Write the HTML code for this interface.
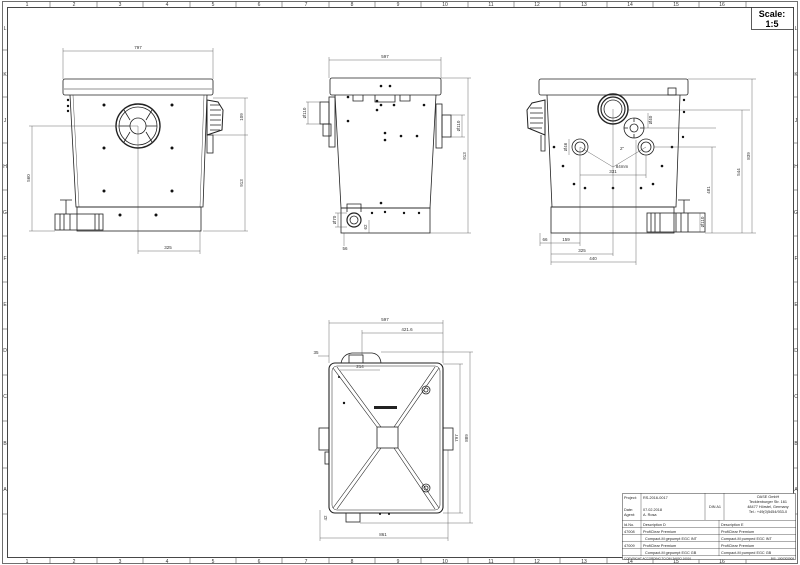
<!DOCTYPE html>
<html><head><meta charset="utf-8"><style>
html,body{margin:0;padding:0;background:#fff}
svg{display:block;font-family:"Liberation Sans",sans-serif}
</style></head><body>
<svg width="800" height="565" viewBox="0 0 800 565" xmlns="http://www.w3.org/2000/svg">
<rect width="800" height="565" fill="#fff"/>
<!-- frame -->
<g fill="none" stroke="#333" stroke-width="0.7">
<rect x="2.5" y="1.5" width="795" height="562"/>
<rect x="7.5" y="7.5" width="786" height="550" stroke-width="0.9"/>
</g>
<g stroke="#555" stroke-width="0.6">
<line x1="50" y1="1" x2="50" y2="7"/><line x1="97" y1="1" x2="97" y2="7"/><line x1="143" y1="1" x2="143" y2="7"/><line x1="190" y1="1" x2="190" y2="7"/><line x1="236" y1="1" x2="236" y2="7"/><line x1="282" y1="1" x2="282" y2="7"/><line x1="329" y1="1" x2="329" y2="7"/><line x1="375" y1="1" x2="375" y2="7"/><line x1="421" y1="1" x2="421" y2="7"/><line x1="468" y1="1" x2="468" y2="7"/><line x1="514" y1="1" x2="514" y2="7"/><line x1="560" y1="1" x2="560" y2="7"/><line x1="607" y1="1" x2="607" y2="7"/><line x1="653" y1="1" x2="653" y2="7"/><line x1="699" y1="1" x2="699" y2="7"/><line x1="746" y1="1" x2="746" y2="7"/>
<line x1="50" y1="558" x2="50" y2="564"/><line x1="97" y1="558" x2="97" y2="564"/><line x1="143" y1="558" x2="143" y2="564"/><line x1="190" y1="558" x2="190" y2="564"/><line x1="236" y1="558" x2="236" y2="564"/><line x1="282" y1="558" x2="282" y2="564"/><line x1="329" y1="558" x2="329" y2="564"/><line x1="375" y1="558" x2="375" y2="564"/><line x1="421" y1="558" x2="421" y2="564"/><line x1="468" y1="558" x2="468" y2="564"/><line x1="514" y1="558" x2="514" y2="564"/><line x1="560" y1="558" x2="560" y2="564"/><line x1="607" y1="558" x2="607" y2="564"/><line x1="653" y1="558" x2="653" y2="564"/><line x1="699" y1="558" x2="699" y2="564"/><line x1="746" y1="558" x2="746" y2="564"/>
<line x1="2" y1="50" x2="7" y2="50"/><line x1="2" y1="97" x2="7" y2="97"/><line x1="2" y1="143" x2="7" y2="143"/><line x1="2" y1="190" x2="7" y2="190"/><line x1="2" y1="236" x2="7" y2="236"/><line x1="2" y1="282" x2="7" y2="282"/><line x1="2" y1="329" x2="7" y2="329"/><line x1="2" y1="375" x2="7" y2="375"/><line x1="2" y1="421" x2="7" y2="421"/><line x1="2" y1="468" x2="7" y2="468"/><line x1="2" y1="514" x2="7" y2="514"/>
<line x1="793" y1="50" x2="798" y2="50"/><line x1="793" y1="97" x2="798" y2="97"/><line x1="793" y1="143" x2="798" y2="143"/><line x1="793" y1="190" x2="798" y2="190"/><line x1="793" y1="236" x2="798" y2="236"/><line x1="793" y1="282" x2="798" y2="282"/><line x1="793" y1="329" x2="798" y2="329"/><line x1="793" y1="375" x2="798" y2="375"/><line x1="793" y1="421" x2="798" y2="421"/><line x1="793" y1="468" x2="798" y2="468"/><line x1="793" y1="514" x2="798" y2="514"/>
</g>
<g font-size="5" fill="#333" text-anchor="middle">
<text x="27" y="6">1</text><text x="74" y="6">2</text><text x="120" y="6">3</text><text x="167" y="6">4</text><text x="213" y="6">5</text><text x="259" y="6">6</text><text x="306" y="6">7</text><text x="352" y="6">8</text><text x="398" y="6">9</text><text x="445" y="6">10</text><text x="491" y="6">11</text><text x="537" y="6">12</text><text x="584" y="6">13</text><text x="630" y="6">14</text><text x="676" y="6">15</text><text x="722" y="6">16</text>
<text x="27" y="563">1</text><text x="74" y="563">2</text><text x="120" y="563">3</text><text x="167" y="563">4</text><text x="213" y="563">5</text><text x="259" y="563">6</text><text x="306" y="563">7</text><text x="352" y="563">8</text><text x="398" y="563">9</text><text x="445" y="563">10</text><text x="491" y="563">11</text><text x="537" y="563">12</text><text x="584" y="563">13</text><text x="630" y="563">14</text><text x="676" y="563">15</text><text x="722" y="563">16</text>
<text x="5" y="30">L</text><text x="5" y="76">K</text><text x="5" y="122">J</text><text x="5" y="168">H</text><text x="5" y="214">G</text><text x="5" y="260">F</text><text x="5" y="306">E</text><text x="5" y="352">D</text><text x="5" y="398">C</text><text x="5" y="445">B</text><text x="5" y="491">A</text>
<text x="796" y="30">L</text><text x="796" y="76">K</text><text x="796" y="122">J</text><text x="796" y="168">H</text><text x="796" y="214">G</text><text x="796" y="260">F</text><text x="796" y="306">E</text><text x="796" y="352">D</text><text x="796" y="398">C</text><text x="796" y="445">B</text><text x="796" y="491">A</text>
</g>
<!-- scale box -->
<rect x="751.5" y="7.5" width="42" height="22" fill="#fff" stroke="#333" stroke-width="0.8"/>
<text x="772" y="17" font-size="9" font-weight="bold" text-anchor="middle">Scale:</text>
<text x="772" y="27" font-size="9" font-weight="bold" text-anchor="middle">1:5</text>

<!-- ========== FRONT VIEW (left) ========== -->
<g fill="none" stroke="#222" stroke-width="0.8">
<rect x="63" y="79" width="150" height="16" rx="2"/>
<line x1="64" y1="89" x2="212" y2="89" stroke-width="0.5"/>
<path d="M70 95 L76 207 L203 207 L207 95"/>
<path d="M73 95 L79 207 M204 95 L200 207" stroke-width="0.4"/>
<rect x="77" y="207" width="124" height="24"/>
<circle cx="138" cy="126" r="22" stroke-width="1.4"/>
<circle cx="138" cy="126" r="19"/>
<circle cx="138" cy="126" r="8"/>
<path d="M130 120 L124 110 M146 120 L152 110 M130 132 L124 142 M146 132 L152 142 M119 126 L130 126 M146 126 L157 126"/>
<path d="M207 100 L218 102 L223 110 L222 130 L207 135 Z" stroke-width="1"/>
<path d="M210 105 h10 M210 110 h11 M210 115 h11 M210 120 h11 M210 125 h11 M210 130 h10"/>
<rect x="207" y="135" width="6" height="18"/>
<rect x="55" y="214" width="48" height="16"/>
<path d="M60 214 v16 M64 214 v16 M70 214 v16 M95 214 v16 M99 214 v16" />
<path d="M60 200 h12 M66 200 v14"/>
</g>
<g fill="#111">
<circle cx="104" cy="105" r="1.5"/><circle cx="172" cy="105" r="1.5"/><circle cx="104" cy="148" r="1.5"/><circle cx="172" cy="148" r="1.5"/><circle cx="104" cy="191" r="1.5"/><circle cx="172" cy="191" r="1.5"/><circle cx="120" cy="215" r="1.5"/><circle cx="156" cy="215" r="1.5"/>
<circle cx="68" cy="100" r="1.2"/><circle cx="68" cy="106" r="1.2"/><circle cx="68" cy="111" r="1.2"/>
</g>
<g stroke="#444" stroke-width="0.4" fill="none">
<line x1="63" y1="51" x2="213" y2="51"/><line x1="63" y1="48" x2="63" y2="79"/><line x1="213" y1="48" x2="213" y2="79"/>
<line x1="245" y1="98" x2="245" y2="231"/><line x1="213" y1="98" x2="248" y2="98"/><line x1="213" y1="135" x2="248" y2="135"/><line x1="203" y1="231" x2="248" y2="231"/>
<line x1="32" y1="126" x2="32" y2="231"/><line x1="29" y1="126" x2="138" y2="126"/><line x1="29" y1="231" x2="55" y2="231"/>
<line x1="138" y1="126" x2="138" y2="254"/><line x1="200" y1="231" x2="200" y2="254"/><line x1="138" y1="251" x2="200" y2="251"/>
</g>
<g font-size="4.5" fill="#333" text-anchor="middle">
<text x="138" y="49">797</text><text x="168" y="249">325</text>
<text transform="translate(243,117) rotate(-90)">109</text><text transform="translate(243,183) rotate(-90)">913</text><text transform="translate(30,178) rotate(-90)">560</text>
</g>

<!-- ========== SIDE VIEW (middle) ========== -->
<g fill="none" stroke="#222" stroke-width="0.8">
<rect x="330" y="78" width="111" height="17" rx="2"/>
<path d="M335 95 L341 208 L430 208 L436 95"/>
<rect x="341" y="208" width="89" height="25"/>
<path d="M353 95 v6 h10 v-6 M375 95 v7 h20 v-7 M400 95 v6 h10 v-6"/>
<rect x="320" y="102" width="9" height="22"/><rect x="329" y="97" width="6" height="50"/>
<rect x="323" y="124" width="8" height="12"/>
<rect x="436" y="104" width="6" height="44"/><rect x="442" y="115" width="9" height="22"/>
<circle cx="354" cy="220" r="7" stroke-width="1.2"/><circle cx="354" cy="220" r="4"/>
<path d="M347 212 v-8 h14 v8"/>
</g>
<g fill="#111">
<circle cx="381" cy="86" r="1.3"/><circle cx="390" cy="86" r="1.3"/>
<circle cx="348" cy="97" r="1.3"/><circle cx="377" cy="101" r="1.3"/><circle cx="381" cy="105" r="1.3"/><circle cx="394" cy="105" r="1.3"/><circle cx="424" cy="105" r="1.3"/><circle cx="377" cy="110" r="1.3"/><circle cx="348" cy="121" r="1.3"/><circle cx="385" cy="133" r="1.3"/><circle cx="385" cy="140" r="1.3"/><circle cx="401" cy="136" r="1.3"/><circle cx="417" cy="136" r="1.3"/><circle cx="381" cy="203" r="1.3"/>
<circle cx="372" cy="213" r="1.2"/><circle cx="385" cy="212" r="1.2"/><circle cx="404" cy="213" r="1.2"/><circle cx="419" cy="213" r="1.2"/>
</g>
<g stroke="#444" stroke-width="0.4" fill="none">
<line x1="329" y1="60" x2="441" y2="60"/><line x1="329" y1="57" x2="329" y2="78"/><line x1="441" y1="57" x2="441" y2="78"/>
<line x1="468" y1="78" x2="468" y2="233"/><line x1="441" y1="78" x2="471" y2="78"/><line x1="430" y1="233" x2="471" y2="233"/>
<line x1="306" y1="102" x2="320" y2="102"/><line x1="306" y1="124" x2="320" y2="124"/><line x1="308" y1="102" x2="308" y2="124"/>
<line x1="451" y1="115" x2="465" y2="115"/><line x1="451" y1="137" x2="465" y2="137"/><line x1="462" y1="115" x2="462" y2="137"/>
<line x1="335" y1="213" x2="347" y2="213"/><line x1="335" y1="227" x2="347" y2="227"/><line x1="338" y1="213" x2="338" y2="227"/>
<line x1="369" y1="220" x2="369" y2="233"/><line x1="344" y1="233" x2="344" y2="246"/>
</g>
<g font-size="4.5" fill="#333" text-anchor="middle">
<text x="385" y="58">597</text>
<text transform="translate(466,156) rotate(-90)">913</text>
<text transform="translate(306,113) rotate(-90)">Ø110</text><text transform="translate(460,126) rotate(-90)">Ø110</text>
<text transform="translate(336,220) rotate(-90)">Ø70</text><text transform="translate(367,227) rotate(-90)">62</text>
<text x="345" y="250">56</text>
</g>

<!-- ========== BACK VIEW (right) ========== -->
<g fill="none" stroke="#222" stroke-width="0.8">
<rect x="539" y="79" width="149" height="16" rx="2"/>
<path d="M547 95 L552 207 L676 207 L680 95"/>
<rect x="551" y="207" width="123" height="26"/>
<rect x="668" y="88" width="8" height="7"/>
<path d="M545 100 L532 103 L527 110 L528 128 L545 135 Z" stroke-width="1"/>
<path d="M530 108 h12 M530 113 h13 M530 118 h13 M530 123 h13 M530 128 h12"/>
<path d="M541 135 v16 h4 v-16"/>
<circle cx="613" cy="109" r="15" stroke-width="1.4"/><circle cx="613" cy="109" r="12" stroke-width="1.2"/><circle cx="613" cy="109" r="9"/>
<circle cx="634" cy="128" r="10"/><circle cx="634" cy="128" r="4"/>
<path d="M634 118 v4 M634 134 v4 M624 128 h4 M640 128 h4"/>
<circle cx="580" cy="147" r="8"/><circle cx="580" cy="147" r="5"/>
<circle cx="646" cy="147" r="8"/><circle cx="646" cy="147" r="5"/>
<rect x="647" y="213" width="58" height="19"/>
<path d="M651 213 v19 M655 213 v19 M660 213 v19 M676 213 v19 M681 213 v19 M688 213 v19"/>
<path d="M678 200 h12 M684 200 v13"/>
</g>
<g fill="#111">
<circle cx="554" cy="147" r="1.3"/><circle cx="672" cy="147" r="1.3"/><circle cx="563" cy="166" r="1.3"/><circle cx="662" cy="166" r="1.3"/><circle cx="574" cy="184" r="1.3"/><circle cx="585" cy="188" r="1.3"/><circle cx="613" cy="188" r="1.3"/><circle cx="641" cy="188" r="1.3"/><circle cx="653" cy="184" r="1.3"/>
<circle cx="684" cy="100" r="1.2"/><circle cx="684" cy="112" r="1.2"/><circle cx="683" cy="137" r="1.2"/>
</g>
<g stroke="#444" stroke-width="0.4" fill="none">
<line x1="580" y1="147" x2="613" y2="167"/><line x1="646" y1="147" x2="613" y2="167"/><line x1="613" y1="109" x2="613" y2="256"/>
<line x1="580" y1="147" x2="580" y2="246"/><line x1="646" y1="155" x2="646" y2="178"/><line x1="580" y1="175" x2="646" y2="175"/>
<line x1="551" y1="210" x2="551" y2="265"/><line x1="540" y1="233" x2="540" y2="246"/><line x1="540" y1="243" x2="551" y2="243"/><line x1="551" y1="243" x2="580" y2="243"/>
<line x1="551" y1="254" x2="613" y2="254"/><line x1="636" y1="140" x2="636" y2="265"/><line x1="551" y1="262" x2="636" y2="262"/>
<line x1="628" y1="110" x2="750" y2="110"/><line x1="742" y1="110" x2="742" y2="233"/>
<line x1="644" y1="128" x2="716" y2="128"/><line x1="654" y1="147" x2="716" y2="147"/><line x1="712" y1="147" x2="712" y2="233"/>
<line x1="688" y1="79" x2="756" y2="79"/><line x1="752" y1="79" x2="752" y2="233"/><line x1="705" y1="233" x2="756" y2="233"/>
<line x1="569" y1="139" x2="569" y2="155"/><line x1="648" y1="113" x2="648" y2="128"/><line x1="700" y1="213" x2="700" y2="232"/>
</g>
<g font-size="4.5" fill="#333" text-anchor="middle">
<text x="613" y="173">331</text><text x="622" y="168">84mm</text><text x="622" y="150">2"</text>
<text x="545" y="241">66</text><text x="566" y="241">159</text><text x="582" y="252">325</text><text x="593" y="260">440</text>
<text transform="translate(740,172) rotate(-90)">544</text><text transform="translate(710,190) rotate(-90)">481</text><text transform="translate(750,156) rotate(-90)">839</text>
<text transform="translate(567,147) rotate(-90)">Ø46</text><text transform="translate(652,120) rotate(-90)">Ø40</text><text transform="translate(704,222) rotate(-90)">Ø110</text>
</g>

<!-- ========== TOP VIEW (bottom) ========== -->
<g fill="none" stroke="#222" stroke-width="0.8">
<path d="M341 363 Q343 354 352 353 L372 353 Q380 354 381 363" />
<rect x="349" y="355" width="14" height="8"/>
<rect x="329" y="363" width="114" height="150" rx="6" stroke-width="1.1"/>
<rect x="332" y="366" width="108" height="144" rx="5" stroke-width="0.5"/>
<rect x="377" y="427" width="21" height="21"/>
<path d="M333 368 L377 427 M337 367 L381 427 M439 368 L398 427 M435 367 L394 427 M333 508 L377 448 M337 509 L381 448 M439 508 L398 448 M435 509 L394 448" stroke-width="0.6"/>
<rect x="319" y="428" width="10" height="22"/><rect x="443" y="428" width="10" height="22"/>
<rect x="325" y="452" width="4" height="12"/>
<circle cx="426" cy="390" r="4"/><circle cx="426" cy="390" r="2"/>
<circle cx="426" cy="488" r="4"/><circle cx="426" cy="488" r="2"/>
<rect x="346" y="513" width="14" height="9"/>
</g>
<rect x="374" y="406" width="23" height="3" fill="#222"/>
<g fill="#111"><circle cx="344" cy="403" r="1.2"/><circle cx="339" cy="377" r="1"/><circle cx="380" cy="514" r="1"/><circle cx="389" cy="514" r="1"/></g>
<g stroke="#444" stroke-width="0.4" fill="none">
<line x1="329" y1="323" x2="443" y2="323"/><line x1="329" y1="320" x2="329" y2="363"/><line x1="443" y1="320" x2="443" y2="363"/>
<line x1="362" y1="333" x2="443" y2="333"/><line x1="362" y1="330" x2="362" y2="355"/>
<line x1="340" y1="370" x2="380" y2="370"/>
<line x1="320" y1="538" x2="448" y2="538"/><line x1="320" y1="510" x2="320" y2="541"/><line x1="448" y1="450" x2="448" y2="541"/>
<line x1="443" y1="364" x2="463" y2="364"/><line x1="443" y1="513" x2="463" y2="513"/><line x1="460" y1="364" x2="460" y2="513"/>
<line x1="381" y1="352" x2="473" y2="352"/><line x1="360" y1="523" x2="473" y2="523"/><line x1="470" y1="352" x2="470" y2="523"/>
<line x1="318" y1="356" x2="329" y2="356"/>
</g>
<g font-size="4.5" fill="#333" text-anchor="middle">
<text x="385" y="321">597</text><text x="407" y="331">421.6</text><text x="360" y="368">214</text><text x="383" y="536">861</text>
<text transform="translate(458,438) rotate(-90)">797</text><text transform="translate(468,438) rotate(-90)">889</text>
<text x="316" y="354">35</text><text transform="translate(327,518) rotate(-90)">42</text>
</g>

<!-- ========== TITLE BLOCK ========== -->
<g fill="#fff" stroke="#333" stroke-width="0.5">
<rect x="622.5" y="493.5" width="173" height="66"/>
</g>
<g stroke="#333" stroke-width="0.4">
<line x1="641" y1="493" x2="641" y2="556"/><line x1="705" y1="493" x2="705" y2="520"/><line x1="724" y1="493" x2="724" y2="520"/>
<line x1="719" y1="520" x2="719" y2="556"/>
<line x1="622" y1="520.5" x2="796" y2="520.5"/><line x1="622" y1="527.5" x2="796" y2="527.5"/><line x1="622" y1="534.5" x2="796" y2="534.5"/><line x1="622" y1="541.5" x2="796" y2="541.5"/><line x1="622" y1="548.5" x2="796" y2="548.5"/><line x1="622" y1="555.5" x2="796" y2="555.5"/>
</g>
<g font-size="3.8" fill="#222">
<text x="624" y="499">Project:</text><text x="643" y="499">RS-2016-0017</text>
<text x="624" y="511">Date:</text><text x="643" y="511">07.02.2018</text>
<text x="624" y="516">Agent:</text><text x="643" y="516">A. Rosa</text>
<text x="709" y="508">DIN A1</text>
<text x="768" y="498" text-anchor="middle">OASE GmbH</text>
<text x="768" y="503" text-anchor="middle">Tecklenburger Str. 161</text>
<text x="768" y="508" text-anchor="middle">48477 Hörstel, Germany</text>
<text x="768" y="513" text-anchor="middle">Tel.: +49(0)5454/933-0</text>
<text x="624" y="526">Id.No.</text><text x="643" y="526">Description D</text><text x="721" y="526">Description E</text>
<text x="624" y="533">47008</text><text x="643" y="533">ProfiClear Premium</text><text x="721" y="533">ProfiClear Premium</text>
<text x="645" y="540">Compact-M gepumpt EGC    INT</text><text x="721" y="540">Compact-M pumped EGC    INT</text>
<text x="624" y="547">47009</text><text x="643" y="547">ProfiClear Premium</text><text x="721" y="547">ProfiClear Premium</text>
<text x="645" y="554">Compact-M gepumpt EGC    GB</text><text x="721" y="554">Compact-M pumped EGC    GB</text>
<text x="624" y="559.5" font-size="3">COPYRIGHT ACCORDING TO DIN 34/ISO 16016</text>
<text x="794" y="559.5" font-size="3" text-anchor="end">BIS: 1000305908</text>
</g>
</svg>
</body></html>
